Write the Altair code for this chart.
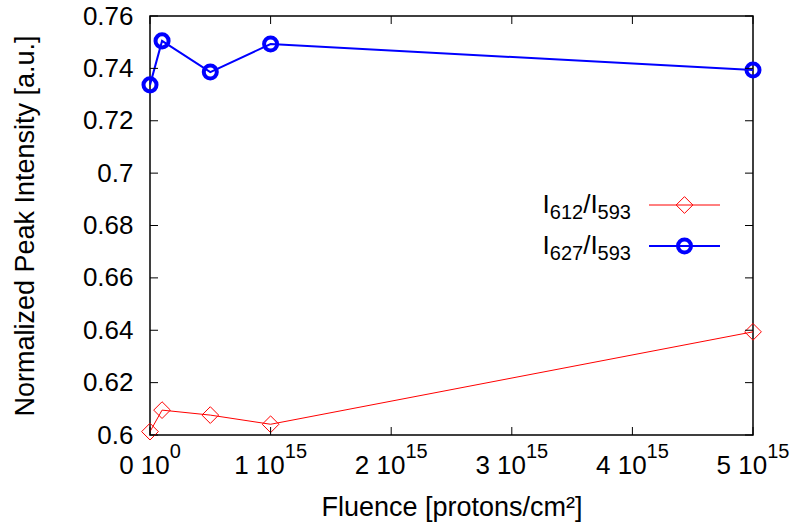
import altair as alt
import pandas as pd

# ---- data ----
fluence = [0.0, 1.0e14, 5.0e14, 1.0e15, 5.0e15]
ratio_612 = [0.6013, 0.6095, 0.6076, 0.6041, 0.6394]
ratio_627 = [0.7337, 0.7505, 0.7386, 0.7493, 0.7394]

x_tick_values = [0.0, 1e15, 2e15, 3e15, 4e15, 5e15]
x_tick_mantissa = ["0 10", "1 10", "2 10", "3 10", "4 10", "5 10"]
x_tick_exponent = ["0", "15", "15", "15", "15", "15"]
y_tick_values = [0.6, 0.62, 0.64, 0.66, 0.68, 0.7, 0.72, 0.74, 0.76]

legend_labels = [("612", "593"), ("627", "593")]

W, H = 603, 419
FONT = "Liberation Sans"
RED = "#ff0000"
BLUE = "#0000ff"
MAIN = 26
TITLE = 27
SUB = 20

df = pd.DataFrame({"fluence": fluence, "r612": ratio_612, "r627": ratio_627})
xt = pd.DataFrame({"tick": x_tick_values, "main": x_tick_mantissa, "sup": x_tick_exponent})
yt = pd.DataFrame({"tick": y_tick_values})
one = pd.DataFrame({"k": [0]})

xscale = alt.Scale(domain=[0, 5e15], nice=False, zero=False)
yscale = alt.Scale(domain=[0.6, 0.76], nice=False, zero=False)

x_axis = alt.Axis(labels=False, ticks=False, domain=False, grid=False,
                  title="Fluence [protons/cm²]", titleFont=FONT, titleFontSize=TITLE,
                  titleFontWeight="normal", titleColor="black",
                  titleX=W / 2, titleY=80, titleBaseline="alphabetic", titleAlign="center")
y_axis = alt.Axis(values=y_tick_values, format="~g", ticks=False, domain=False, grid=False,
                  labelPadding=17, labelFontSize=MAIN, labelFont=FONT, labelColor="black",
                  title="Normalized Peak Intensity [a.u.]", titleFont=FONT, titleFontSize=TITLE,
                  titleFontWeight="normal", titleColor="black", titleAngle=270,
                  titleX=-117, titleY=H / 2, titleBaseline="alphabetic", titleAlign="center")


def X(field):
    return alt.X(field, scale=xscale, axis=x_axis)


def Y(field):
    return alt.Y(field, scale=yscale, axis=y_axis)


base = alt.Chart(df)

red_line = base.mark_line(color=RED, strokeWidth=1).encode(x=X("fluence:Q"), y=Y("r612:Q"))
red_pts = base.mark_point(shape="diamond", filled=False, color=RED, size=280, strokeWidth=1,
                          opacity=1).encode(x=X("fluence:Q"), y=Y("r612:Q"))
blue_line = base.mark_line(color=BLUE, strokeWidth=2).encode(x=X("fluence:Q"), y=Y("r627:Q"))
blue_pts = base.mark_point(shape="circle", filled=False, color=BLUE, size=170, strokeWidth=4,
                           opacity=1).encode(x=X("fluence:Q"), y=Y("r627:Q"))

# inward ticks on all four sides (gnuplot style)
TL = 8
ytick_l = alt.Chart(yt).mark_rule(color="black", strokeWidth=1).encode(
    y=Y("tick:Q"), x=alt.value(0), x2=alt.value(TL))
ytick_r = alt.Chart(yt).mark_rule(color="black", strokeWidth=1).encode(
    y=Y("tick:Q"), x=alt.value(W - TL), x2=alt.value(W))
xtick_b = alt.Chart(xt).mark_rule(color="black", strokeWidth=1).encode(
    x=X("tick:Q"), y=alt.value(H - TL), y2=alt.value(H))
xtick_t = alt.Chart(xt).mark_rule(color="black", strokeWidth=1).encode(
    x=X("tick:Q"), y=alt.value(0), y2=alt.value(TL))


# x tick labels with superscript exponents
def xlabels(filter_expr, dx_main):
    src = alt.Chart(xt).transform_filter(filter_expr)
    main = src.mark_text(align="right", baseline="alphabetic", dx=dx_main, font=FONT,
                         fontSize=MAIN, color="black").encode(
        x=X("tick:Q"), y=alt.value(458), text="main:N")
    sup = src.mark_text(align="left", baseline="alphabetic", dx=dx_main, font=FONT,
                        fontSize=SUB, color="black").encode(
        x=X("tick:Q"), y=alt.value(442), text="sup:N")
    return [main, sup]


xlab = xlabels("datum.tick == 0", 19.75) + xlabels("datum.tick > 0", 14.2)


# legend (gnuplot style: label then sample)
def txt(s, x, y, size, align):
    return alt.Chart(one).mark_text(align=align, baseline="alphabetic", font=FONT,
                                    fontSize=size, color="black").encode(
        x=alt.value(x), y=alt.value(y), text=alt.value(s))


legend_layers = []
rows = [(legend_labels[0], 189, RED, "diamond", 1, 280, 1),
        (legend_labels[1], 230, BLUE, "circle", 4, 170, 2)]
for (num, den), ly, col, shape, sw, sz, lw in rows:
    bl = ly + 8
    legend_layers += [
        txt("I", 399.8, bl, MAIN, "right"),
        txt(num, 399.8, bl + 6, SUB, "left"),
        txt("/I", 433.2, bl, MAIN, "left"),
        txt(den, 447.6, bl + 6, SUB, "left"),
        alt.Chart(one).mark_rule(color=col, strokeWidth=lw).encode(
            x=alt.value(499), x2=alt.value(570), y=alt.value(ly)),
        alt.Chart(one).mark_point(shape=shape, filled=False, color=col, size=sz,
                                  strokeWidth=sw, opacity=1).encode(
            x=alt.value(534.5), y=alt.value(ly)),
    ]

chart = alt.layer(
    red_line, red_pts, blue_line, blue_pts,
    ytick_l, ytick_r, xtick_b, xtick_t,
    *xlab, *legend_layers,
).properties(
    width=W, height=H,
    autosize=alt.AutoSizeParams(type="none"),
    padding={"left": 150, "top": 16, "right": 41, "bottom": 90},
).configure(
    font=FONT, background="white"
).configure_view(
    stroke="black", strokeWidth=1.5
)

chart.save("out.html", embed_options={"renderer": "svg", "actions": False})
